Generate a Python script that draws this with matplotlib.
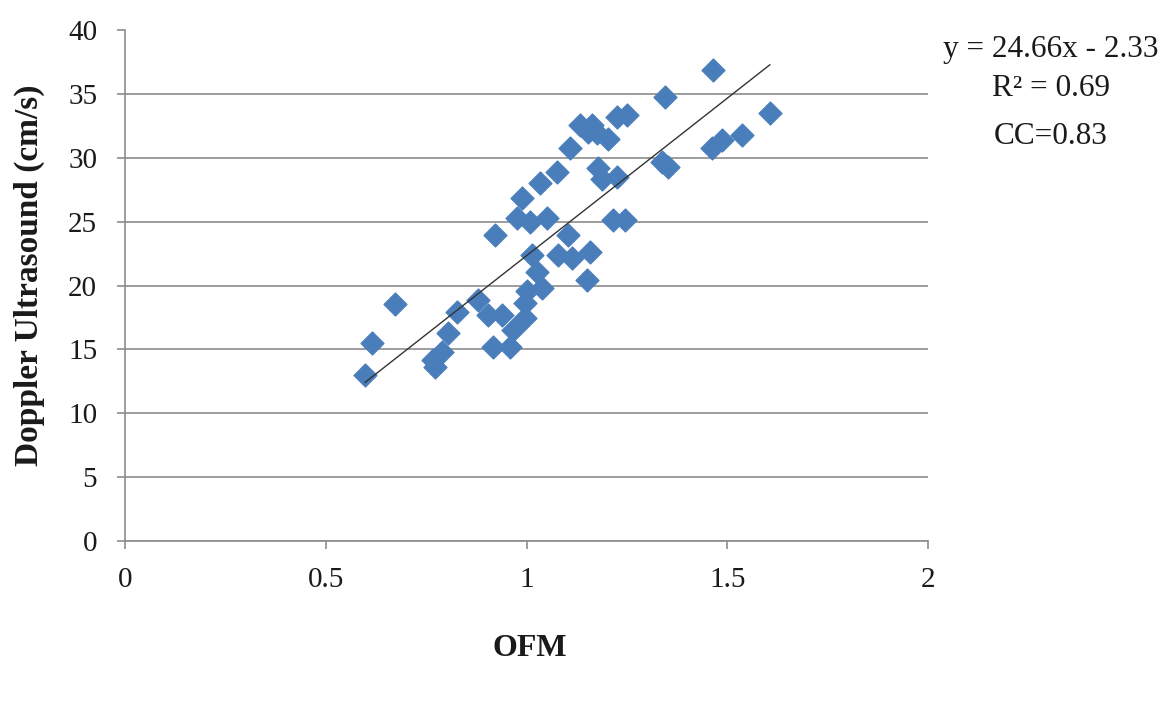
import matplotlib
matplotlib.use("Agg")
import matplotlib.pyplot as plt
import numpy as np

ofm = [0.598, 0.615, 0.672, 0.767, 0.772, 0.790, 0.804, 0.827, 0.879, 0.904,
       0.917, 0.921, 0.939, 0.959, 0.966, 0.976, 0.989, 0.996, 0.996, 1.001,
       1.009, 1.014, 1.026, 1.034, 1.039, 1.051, 1.076, 1.078, 1.103, 1.108,
       1.113, 1.133, 1.151, 1.153, 1.158, 1.163, 1.176, 1.178, 1.188, 1.203,
       1.215, 1.225, 1.225, 1.245, 1.250, 1.337, 1.345, 1.352, 1.462, 1.464,
       1.487, 1.537, 1.606]
doppler = [13.0, 15.5, 18.55, 14.2, 13.6, 14.8, 16.3, 17.9, 18.9, 17.7,
           15.2, 23.95, 17.7, 15.2, 16.5, 25.3, 26.85, 17.45, 18.6, 19.6,
           25.0, 22.4, 21.05, 28.0, 19.8, 25.3, 28.9, 22.4, 23.95, 30.8,
           22.15, 32.6, 20.4, 32.0, 22.6, 32.6, 31.9, 29.2, 28.3, 31.5,
           25.1, 28.5, 33.2, 25.1, 33.35, 29.7, 34.75, 29.3, 30.8, 36.9,
           31.4, 31.8, 33.5]

slope = 24.66
intercept = -2.33
r2_text = "0.69"
cc_text = "0.83"

x_ticks = [0, 0.5, 1, 1.5, 2]
x_tick_labels = ["0", "0.5", "1", "1.5", "2"]
y_ticks = [0, 5, 10, 15, 20, 25, 30, 35, 40]

serif = ["Liberation Serif", "DejaVu Serif"]
plt.rcParams['font.family'] = serif

fig = plt.figure(figsize=(11.66, 7.11), dpi=100)
ax = fig.add_axes([125/1166, 1-541/711, (928-125)/1166, (541-30)/711])

ax.set_xlim(0, 2)
ax.set_ylim(0, 40)
ax.set_yticks(y_ticks)
ax.set_xticks(x_ticks)
ax.set_xticklabels(x_tick_labels)
ax.yaxis.grid(True, color="#8c8c8c", linewidth=1.2)
ax.set_axisbelow(True)
for s in ["top", "right"]:
    ax.spines[s].set_visible(False)
for s in ["left", "bottom"]:
    ax.spines[s].set_color("#8c8c8c")
    ax.spines[s].set_linewidth(1.2)
ax.tick_params(axis="both", colors="#8c8c8c", length=6, width=1.2,
               labelsize=21, labelcolor="#1a1a1a")
ax.tick_params(axis="y", pad=14)
ax.tick_params(axis="x", pad=13)
# no gridline on the top boundary
fig.canvas.draw()
ax.yaxis.get_gridlines()[-1].set_visible(False)

ax.scatter(ofm, doppler, marker="D", s=135, color="#4A7EBB",
           edgecolors="#4A7EBB", zorder=3)

xl = np.array([min(ofm), max(ofm)])
ax.plot(xl, slope * xl + intercept, color="#333333", linewidth=1.0, zorder=4)

fig.text(29/1166, 1-275/711, "Doppler Ultrasound (cm/s)", fontsize=24,
         fontweight="bold", rotation=90, ha="center", va="center",
         color="#1a1a1a")

fig.text(1051/1166, 1-50/711, f"y = {slope:.2f}x - {abs(intercept):.2f}",
         fontsize=22.5, ha="center", va="center", color="#1a1a1a")
fig.text(1051/1166, 1-89/711, f"R\u00b2 = {r2_text}",
         fontsize=22.5, ha="center", va="center", color="#1a1a1a")
fig.text(1051/1166, 1-136/711, f"CC={cc_text}",
         fontsize=22.5, ha="center", va="center", color="#1a1a1a")
fig.text(530/1166, 1-648/711, "OFM", fontsize=23, fontweight="bold",
         ha="center", va="center", color="#1a1a1a")

fig.savefig("out.png", dpi=100)
